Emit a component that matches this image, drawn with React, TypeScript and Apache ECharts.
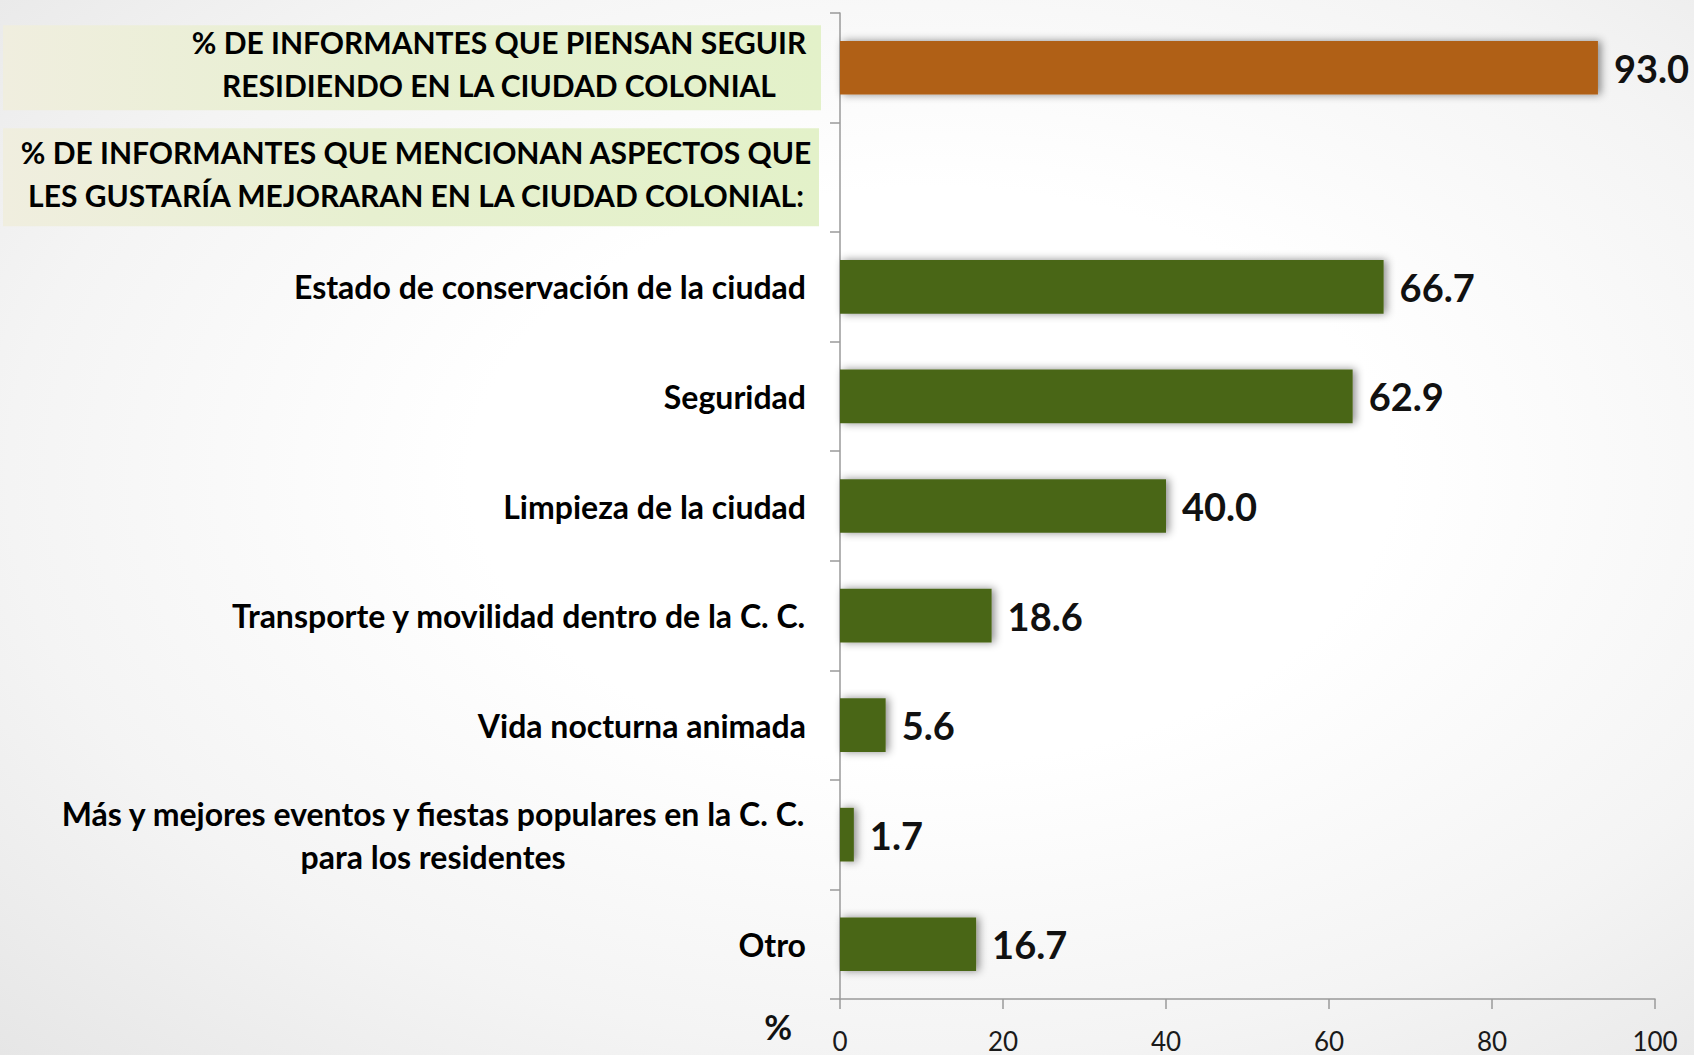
import React, { useEffect, useRef } from "react";
import * as echarts from "echarts";

const CATEGORIES = [
  "% DE INFORMANTES QUE PIENSAN SEGUIR\nRESIDIENDO EN LA CIUDAD COLONIAL",
  "% DE INFORMANTES QUE MENCIONAN ASPECTOS QUE\nLES GUSTARÍA MEJORARAN EN LA CIUDAD COLONIAL:",
  "Estado de conservación de la ciudad",
  "Seguridad",
  "Limpieza de la ciudad",
  "Transporte y movilidad dentro de la C. C.",
  "Vida nocturna animada",
  "Más y mejores eventos y fiestas populares en la C. C.\npara los residentes",
  "Otro",
];
const VALUES: (number | null)[] = [93.0, null, 66.7, 62.9, 40.0, 18.6, 5.6, 1.7, 16.7];
const KINDS = ["header1", "header2", "item", "item", "item", "item", "item", "item", "item"];
const X_TICKS = [0, 20, 40, 60, 80, 100];
const AXIS_NAME = "%";

const W = 1694;
const H = 1055;
const GRID_LEFT = 840;
const GRID_TOP = 13;
const GRID_RIGHT = 39;
const GRID_BOTTOM = 56;
const FONT = "Lato, 'Open Sans', sans-serif";
const ORANGE = "#b06115";
const GREEN = "#4a6619";

export default function App() {
  const ref = useRef<HTMLDivElement>(null);
  useEffect(() => {
    if (!ref.current) return;
    const chart = echarts.init(ref.current, undefined, { renderer: "svg" });
    const bandH = (H - GRID_TOP - GRID_BOTTOM) / CATEGORIES.length;
    const boxFill = new echarts.graphic.LinearGradient(0, 0, 1, 0, [
      { offset: 0, color: "#f0eedf" },
      { offset: 0.45, color: "#e7f0d0" },
      { offset: 1, color: "#e3f1c9" },
    ]);
    const boxes = KINDS.map((k, i) => ({ k, i }))
      .filter((d) => d.k !== "item")
      .map((d) => {
        const h = d.k === "header1" ? 85 : 98;
        const w = d.k === "header1" ? 818 : 816;
        const cy = GRID_TOP + bandH * (d.i + 0.5);
        return {
          type: "rect",
          z: -10,
          shape: { x: 3, y: cy - h / 2, width: w, height: h },
          style: { fill: boxFill },
        };
      });

    const option: any = {
      animation: false,
      backgroundColor: "transparent",
      textStyle: { fontFamily: FONT },
      grid: {
        left: GRID_LEFT,
        right: GRID_RIGHT,
        top: GRID_TOP,
        bottom: GRID_BOTTOM,
        containLabel: false,
        outerBoundsMode: "none",
      },
      graphic: { elements: boxes },
      xAxis: {
        type: "value",
        min: X_TICKS[0],
        max: X_TICKS[X_TICKS.length - 1],
        interval: X_TICKS[1] - X_TICKS[0],
        splitLine: { show: false },
        axisLine: { show: true, lineStyle: { color: "#9a9a9a", width: 1.5 } },
        axisTick: { show: true, length: 10, lineStyle: { color: "#9a9a9a", width: 1.5 } },
        axisLabel: { margin: 29, fontSize: 26, lineHeight: 25, color: "#1a1a1a", fontFamily: FONT },
        name: `{p|${AXIS_NAME}}`,
        nameLocation: "start",
        nameGap: 48,
        nameTextStyle: {
          align: "right",
          verticalAlign: "top",
          rich: {
            p: {
              fontSize: 34,
              fontWeight: "bold",
              color: "#111",
              fontFamily: FONT,
              lineHeight: 22,
              padding: [32, 0, 0, 0],
            },
          },
        },
      },
      yAxis: {
        type: "category",
        inverse: true,
        data: CATEGORIES,
        axisLine: { show: true, lineStyle: { color: "#9a9a9a", width: 1.5 } },
        axisTick: { show: true, length: 10, lineStyle: { color: "#9a9a9a", width: 1.5 } },
        axisLabel: {
          interval: 0,
          margin: 22,
          color: "#000",
          fontFamily: FONT,
          formatter: (value: string, index: number) => {
            const k = KINDS[index];
            const tag = k === "header1" ? "h1" : k === "header2" ? "h2" : "c";
            const body = value
              .split("\n")
              .map((l) => `{${tag}|${l}}`)
              .join("\n");
            return tag === "c" ? body : body + "\n{sp| }";
          },
          rich: {
            h1: { fontSize: 30, fontWeight: "bold", lineHeight: 43, width: 638, align: "center", color: "#000", fontFamily: FONT },
            h2: { fontSize: 30, fontWeight: "bold", lineHeight: 43, width: 804, align: "center", color: "#000", fontFamily: FONT },
            sp: { fontSize: 2, lineHeight: 8 },
            c: { fontSize: 32, fontWeight: "bold", lineHeight: 43, padding: [0, 12, 0, 0], align: "center", color: "#000", fontFamily: FONT },
          },
        },
      },
      series: [
        {
          type: "bar",
          barCategoryGap: "51%",
          data: VALUES.map((v, i) => ({
            value: v,
            itemStyle: { color: KINDS[i] === "header1" ? ORANGE : GREEN },
          })),
          itemStyle: {
            shadowBlur: 8,
            shadowColor: "rgba(0,0,0,0.45)",
            shadowOffsetX: 3,
            shadowOffsetY: 0,
          },
          label: {
            show: true,
            position: "right",
            distance: 16,
            fontSize: 38,
            fontWeight: "bold",
            color: "#111",
            fontFamily: FONT,
            formatter: (p: any) => (p.value == null ? "" : Number(p.value).toFixed(1)),
          },
        },
      ],
    };
    chart.setOption(option);
    return () => chart.dispose();
  }, []);

  return (
    <div
      style={{
        position: "absolute",
        left: 0,
        top: 0,
        width: W,
        height: H,
        background: "radial-gradient(ellipse at 55% 45%, #ffffff 35%, #f4f4f4 70%, #e6e6e6 100%)",
      }}
    >
      <div ref={ref} style={{ width: W, height: H }} />
    </div>
  );
}
